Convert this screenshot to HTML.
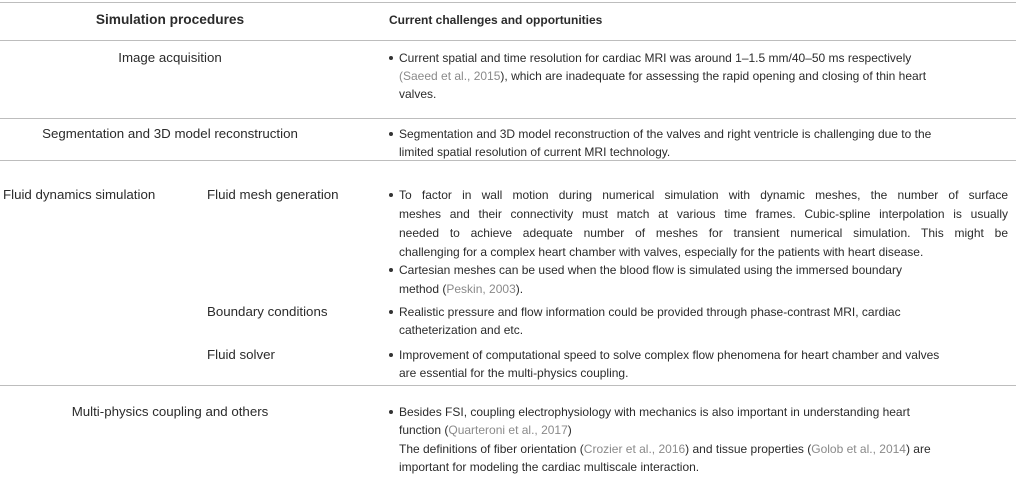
<!DOCTYPE html>
<html><head><meta charset="utf-8"><style>
body{margin:0;background:#fff;}
#tbl{position:relative;width:1016px;height:480px;overflow:hidden;font-family:"Liberation Sans",Arial,sans-serif;font-size:12px;color:#2b2b2b;}
.t{position:absolute;white-space:nowrap;line-height:18px;height:18px;}
.c{text-align:center;}
.l{font-size:13.3px;}
.j{width:609px;text-align:justify;text-align-last:justify;}
.b{font-weight:bold;}
.r{color:#8a8a8a;}
.hr{position:absolute;left:0;width:1016px;height:1px;background:#bdbdbd;}
.dot{position:absolute;left:389px;width:4px;height:4px;border-radius:50%;background:#333;}
</style></head><body>
<div id="tbl">
<div class="hr" style="top:2px"></div>
<div class="t c b" style="left:40px;width:260px;top:11px;font-size:13.7px">Simulation procedures</div>
<div class="t b" style="left:389px;top:11px">Current challenges and opportunities</div>
<div class="hr" style="top:40px"></div>

<div class="t c l" style="left:40px;width:260px;top:49px">Image acquisition</div>
<div class="dot" style="top:56px"></div>
<div class="t" style="left:399px;top:49px">Current spatial and time resolution for cardiac MRI was around 1–1.5 mm/40–50 ms respectively</div>
<div class="t" style="left:399px;top:67px"><span class="r">(Saeed et al., 2015</span>), which are inadequate for assessing the rapid opening and closing of thin heart</div>
<div class="t" style="left:399px;top:85px">valves.</div>
<div class="hr" style="top:118px"></div>

<div class="t c l" style="left:40px;width:260px;top:125px">Segmentation and 3D model reconstruction</div>
<div class="dot" style="top:132px"></div>
<div class="t" style="left:399px;top:125px">Segmentation and 3D model reconstruction of the valves and right ventricle is challenging due to the</div>
<div class="t" style="left:399px;top:143px">limited spatial resolution of current MRI technology.</div>
<div class="hr" style="top:160px"></div>

<div class="t l" style="left:3px;top:186px">Fluid dynamics simulation</div>
<div class="t l" style="left:207px;top:186px">Fluid mesh generation</div>
<div class="dot" style="top:193px"></div>
<div class="t j" style="left:399px;top:186px">To factor in wall motion during numerical simulation with dynamic meshes, the number of surface</div>
<div class="t j" style="left:399px;top:205px">meshes and their connectivity must match at various time frames. Cubic-spline interpolation is usually</div>
<div class="t j" style="left:399px;top:224px">needed to achieve adequate number of meshes for transient numerical simulation. This might be</div>
<div class="t" style="left:399px;top:243px">challenging for a complex heart chamber with valves, especially for the patients with heart disease.</div>
<div class="dot" style="top:268px"></div>
<div class="t" style="left:399px;top:261px">Cartesian meshes can be used when the blood flow is simulated using the immersed boundary</div>
<div class="t" style="left:399px;top:280px">method (<span class="r">Peskin, 2003</span>).</div>

<div class="t l" style="left:207px;top:303px">Boundary conditions</div>
<div class="dot" style="top:310px"></div>
<div class="t" style="left:399px;top:303px">Realistic pressure and flow information could be provided through phase-contrast MRI, cardiac</div>
<div class="t" style="left:399px;top:321px">catheterization and etc.</div>

<div class="t l" style="left:207px;top:346px">Fluid solver</div>
<div class="dot" style="top:353px"></div>
<div class="t" style="left:399px;top:346px">Improvement of computational speed to solve complex flow phenomena for heart chamber and valves</div>
<div class="t" style="left:399px;top:364px">are essential for the multi-physics coupling.</div>
<div class="hr" style="top:385px"></div>

<div class="t c l" style="left:40px;width:260px;top:403px">Multi-physics coupling and others</div>
<div class="dot" style="top:410px"></div>
<div class="t" style="left:399px;top:403px">Besides FSI, coupling electrophysiology with mechanics is also important in understanding heart</div>
<div class="t" style="left:399px;top:421px">function (<span class="r">Quarteroni et al., 2017</span>)</div>
<div class="t" style="left:399px;top:440px">The definitions of fiber orientation (<span class="r">Crozier et al., 2016</span>) and tissue properties (<span class="r">Golob et al., 2014</span>) are</div>
<div class="t" style="left:399px;top:458px">important for modeling the cardiac multiscale interaction.</div>
</div>
</body></html>
